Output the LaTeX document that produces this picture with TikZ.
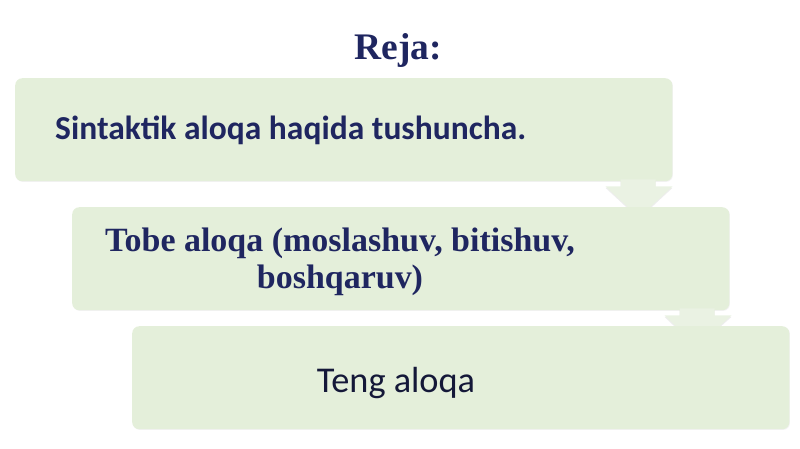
\documentclass[tikz,border=0pt]{standalone}
\usepackage{fontspec}
\setmainfont{Liberation Serif}
\newfontfamily\calfont{Carlito}
\usetikzlibrary{calc,shadows}
\definecolor{rjnavy}{RGB}{31,38,96}
\definecolor{rjink}{RGB}{20,24,56}
\definecolor{rjfill}{RGB}{228,239,218}
\definecolor{rjarrow}{RGB}{234,242,227}
\tikzset{
  planbox/.style={fill=rjfill, rounded corners=6pt, anchor=north west, inner sep=0pt,
                  minimum width=19.71cm, minimum height=3.09cm,
                  drop shadow={opacity=0.10, shadow xshift=0.6pt, shadow yshift=-0.6pt}},
  planarrow/.style={fill=rjarrow, drop shadow={opacity=0.14, shadow xshift=0pt, shadow yshift=-1.2pt}},
  sanstext/.style={font=\calfont\fontsize{31}{36}\selectfont, text=rjink, inner sep=0pt},
  seriftext/.style={font=\bfseries\fontsize{29}{31.6}\selectfont, text=rjnavy, inner sep=0pt, align=center}
}
\begin{document}
\begin{tikzpicture}[x=0.03cm, y=-0.03cm]
  \useasboundingbox (0,0) rectangle (800,449);
  \node[font=\bfseries\fontsize{32}{36}\selectfont, text=rjnavy, inner sep=0pt, anchor=base]
    (title) at (398,59) {Reja:};
  \node[planbox] (b1) at (15,78) {};
  \fill[planarrow] ($(b1.south east)+(-52,-2)$) -- ($(b1.south east)+(-17,-2)$)
    -- ($(b1.south east)+(-17,5)$) -- ($(b1.south east)+(0,5)$)
    -- ($(b1.south east)+(-33.5,36)$) -- ($(b1.south east)+(-67,5)$)
    -- ($(b1.south east)+(-52,5)$) -- cycle;
  \node[planbox] (b2) at (72,207) {};
  \fill[planarrow] ($(b2.south east)+(-50,-2)$) -- ($(b2.south east)+(-15,-2)$)
    -- ($(b2.south east)+(-15,5)$) -- ($(b2.south east)+(2,5)$)
    -- ($(b2.south east)+(-32.5,36)$) -- ($(b2.south east)+(-65,5)$)
    -- ($(b2.south east)+(-50,5)$) -- cycle;
  \node[planbox] (b3) at (132,326) {};
  % box texts
  \node[sanstext, font=\calfont\bfseries\fontsize{28.6}{33}\selectfont, text=rjnavy, anchor=base west]
    (t1) at (55,139) {Sintaktik aloqa haqida tushuncha.};
  \node[seriftext] (t2) at (340,262) {Tobe aloqa (moslashuv, bitishuv,\\boshqaruv)};
  \node[sanstext, anchor=base] (t3) at (396,392) {Teng aloqa};
\end{tikzpicture}
\end{document}
